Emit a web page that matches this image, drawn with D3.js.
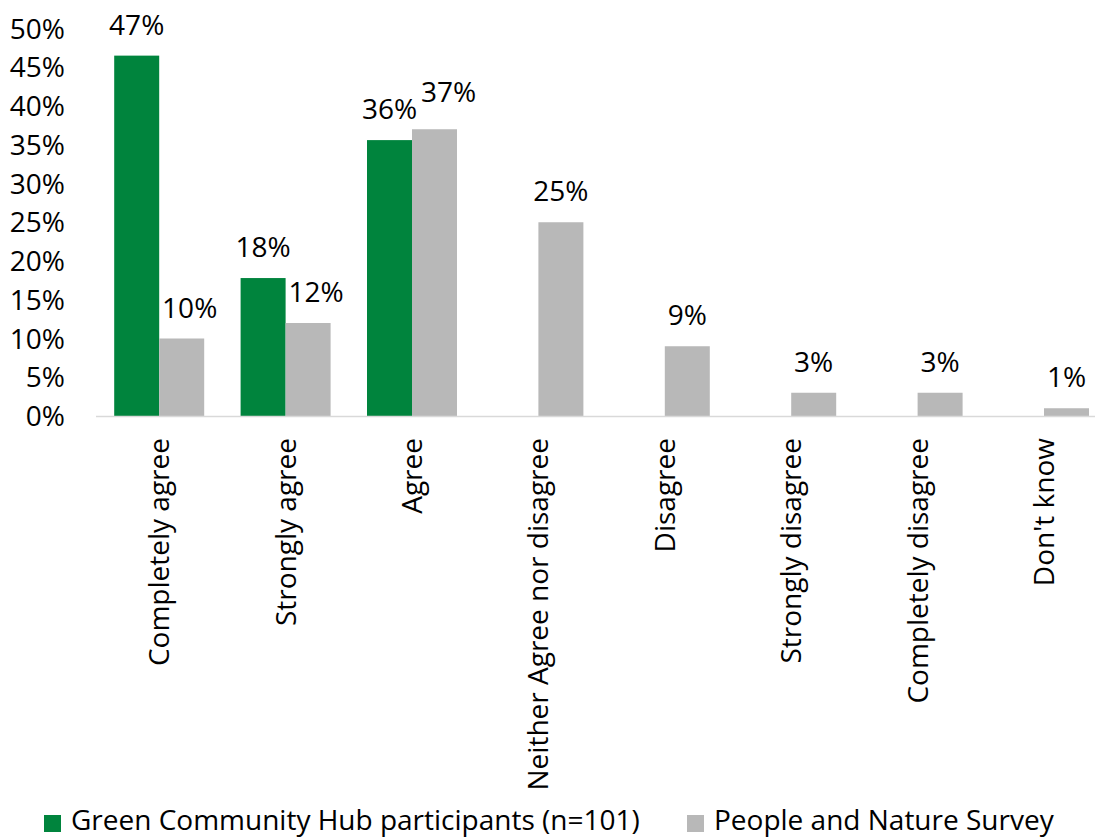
<!DOCTYPE html>
<html>
<head>
	<title>index</title>
	<meta charset="utf-8">
	<script src="https://d3js.org/d3.v7.min.js" charset="utf-8"></script>
	<style>
		body { margin:0; background:#fff; }
		svg { display:block; font-family:"Open Sans", sans-serif; }
	</style>
</head>
<body>
<script>

	var categories = ["Completely agree","Strongly agree","Agree","Neither Agree nor disagree",
		"Disagree","Strongly disagree","Completely disagree","Don't know"];
	var hubValues = [46.5, 17.8, 35.6, null, null, null, null, null];
	var hubLabels = ["47%","18%","36%","","","","",""];
	var surveyValues = [10, 12, 37, 25, 9, 3, 3, 1];
	var surveyLabels = ["10%","12%","37%","25%","9%","3%","3%","1%"];
	var seriesNames = ["Green Community Hub participants (n=101)","People and Nature Survey"];
	var yTicks = [0,5,10,15,20,25,30,35,40,45,50];

	var green = "#00843d", grey = "#b8b8b8";
	var fontSize = 28;

	var svg = d3.select("body").append("svg").attr("width",1095).attr("height",839);

	var x = d3.scaleBand().domain(categories).range([96, 96 + 8*126.4]);
	var y = d3.scaleLinear().domain([0,50]).range([416, 28.5]);
	var barW = 45;

	// y axis labels
	svg.append("g").selectAll("text").data(yTicks).enter().append("text")
		.attr("x", 65).attr("y", function(d) { return y(d); })
		.attr("dy","0.36em")
		.attr("text-anchor","end")
		.attr("font-size", fontSize)
		.text(function(d) { return d + "%"; });

	// bars + labels
	function drawSeries(values, labels, col, off, other) {
		var g = svg.append("g");
		var idx = d3.range(values.length).filter(function(i) { return values[i] != null; });
		g.selectAll("rect").data(idx).enter().append("rect")
			.attr("x", function(i) { return x(categories[i]) + x.bandwidth()/2 + off; })
			.attr("y", function(i) { return y(values[i]); })
			.attr("width", barW)
			.attr("height", function(i) { return y(0) - y(values[i]); })
			.attr("fill", col);
		// push the label right when there is a neighbour bar, and up when the labels would clash
		function hasNb(i) { return other && other[i] != null; }
		function clash(i) { return hasNb(i) && Math.abs(y(other[i]) - y(values[i])) < fontSize; }
		g.selectAll("text").data(idx).enter().append("text")
			.attr("x", function(i) {
				return x(categories[i]) + x.bandwidth()/2 + off + barW/2 + (clash(i) ? 14 : hasNb(i) ? 8 : 0);
			})
			.attr("y", function(i) { return y(values[i]) - 21 - (clash(i) ? 6 : 0); })
			.attr("text-anchor","middle")
			.attr("font-size", fontSize)
			.text(function(i) { return labels[i]; });
	}
	drawSeries(hubValues, hubLabels, green, -barW, null);
	drawSeries(surveyValues, surveyLabels, grey, 0, hubValues);

	// x axis line
	svg.append("line").attr("x1",96).attr("x2",1095).attr("y1",416.5).attr("y2",416.5)
		.attr("stroke","#d9d9d9").attr("stroke-width",1.5);

	// category labels
	svg.append("g").selectAll("text").data(categories).enter().append("text")
		.attr("transform", function(d) {
			return "translate(" + (x(d) + x.bandwidth()/2 + 10) + ",438) rotate(-90)";
		})
		.attr("text-anchor","end")
		.attr("font-size", fontSize)
		.text(function(d) { return d; });

	// legend
	var legX = [44, 687];
	var leg = svg.append("g").selectAll("g").data(seriesNames).enter().append("g")
		.attr("transform", function(d,i) { return "translate(" + legX[i] + ",830)"; });
	leg.append("rect").attr("x",0).attr("y",-15).attr("width",17).attr("height",17)
		.attr("fill", function(d,i) { return i == 0 ? green : grey; });
	leg.append("text").attr("x",27)
		.attr("font-size", fontSize)
		.text(function(d) { return d; });

</script>
</body>
</html>
